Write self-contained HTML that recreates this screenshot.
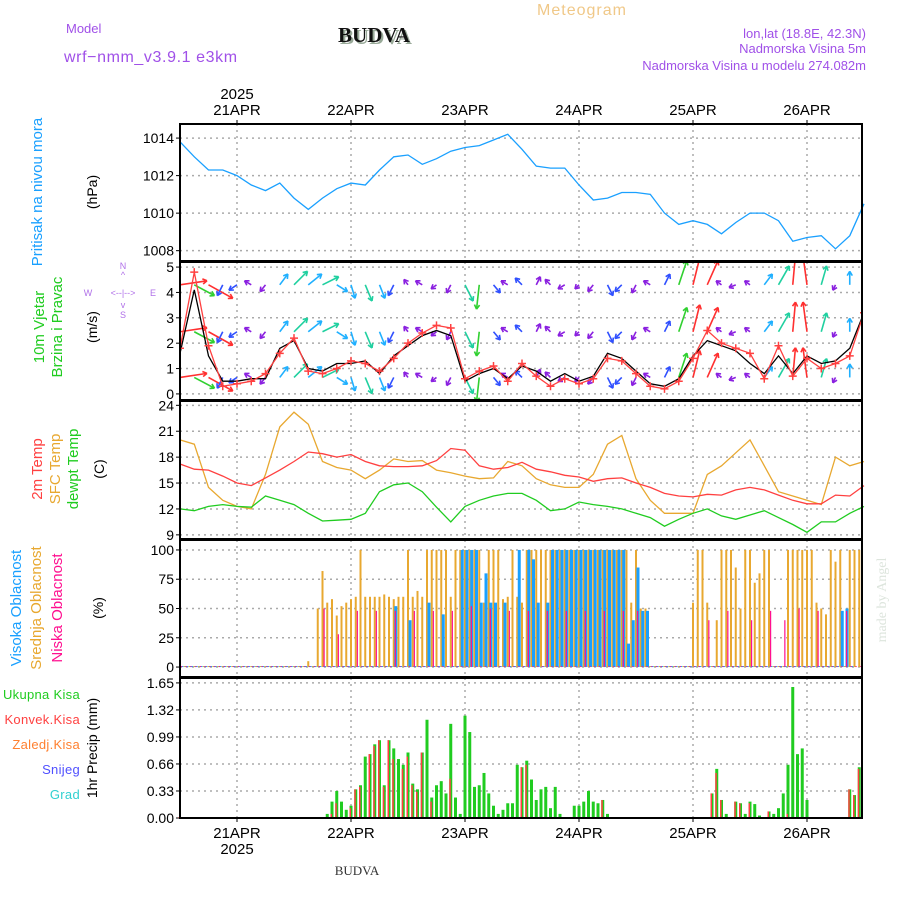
<!DOCTYPE html>
<html><head><meta charset="utf-8"><style>
body{margin:0;background:#fff;width:900px;height:900px;overflow:hidden}
svg{display:block;font-family:"Liberation Sans",sans-serif}
</style></head><body>
<svg id="c" width="900" height="900" viewBox="0 0 900 900">
<defs><clipPath id="clipW"><rect x="180" y="262" width="682" height="138"/></clipPath></defs>
<text x="582" y="15" font-size="16" fill="#f0c888" text-anchor="middle" letter-spacing="1">Meteogram</text>
<text x="376" y="44" font-size="21" font-weight="bold" font-family="Liberation Serif,serif" fill="#9a9" text-anchor="middle">BUDVA</text>
<text x="374" y="42" font-size="21" font-weight="bold" font-family="Liberation Serif,serif" fill="#111" text-anchor="middle">BUDVA</text>
<text x="66" y="33" font-size="13" fill="#a050e8">Model</text>
<text x="64" y="62" font-size="16" fill="#a050e8" letter-spacing="0.6">wrf−nmm_v3.9.1  e3km</text>
<g font-size="13" fill="#a050e8" text-anchor="end">
<text x="866" y="38">lon,lat (18.8E, 42.3N)</text>
<text x="866" y="53">Nadmorska Visina 5m</text>
<text x="866" y="70">Nadmorska Visina u modelu 274.082m</text></g>
<text x="357" y="875" font-size="13" font-family="Liberation Serif,serif" fill="#333" text-anchor="middle">BUDVA</text>
<text transform="translate(886,600) rotate(-90)" font-size="14" font-family="Liberation Serif,serif" fill="#dde5dd" text-anchor="middle">made by Angel</text>
<g id="g"></g>
</svg>
<script>
const hours3=[];for(let i=0;i<49;i++)hours3.push(i*3);
const pressure=[1013.8,1013.0,1012.3,1012.3,1012.0,1011.5,1011.2,1011.6,1010.8,1010.2,1010.8,1011.3,1011.6,1011.5,1012.3,1013.0,1013.1,1012.6,1012.9,1013.3,1013.5,1013.6,1013.9,1014.2,1013.4,1012.5,1012.4,1012.4,1011.5,1010.7,1010.8,1011.1,1011.1,1011.0,1010.0,1009.4,1009.6,1009.4,1008.9,1009.5,1010.0,1010.0,1009.6,1008.5,1008.7,1008.8,1008.1,1008.8,1010.5];
const temp2m=[17.2,16.6,16.5,15.8,15.0,14.7,15.6,16.5,17.5,18.6,18.4,18.0,18.3,17.5,17.0,16.9,16.9,17.0,17.6,19.0,18.8,17.0,16.6,16.8,17.4,16.6,16.3,15.9,15.7,15.2,15.5,15.6,15.0,14.5,13.8,13.5,13.4,13.7,13.6,14.2,14.5,14.2,13.6,13.0,12.6,12.6,13.6,13.5,14.7];
const tempSfc=[20.0,19.5,14.5,13.0,12.3,12.0,16,21.5,23.2,21.8,17.5,16.8,16.5,15.5,16.5,17.8,17.5,17.6,16.5,16.2,15.8,15.5,15.6,17.5,17.0,15.5,14.8,14.5,14.5,16.0,19.5,20.5,15.5,13.0,11.5,11.5,11.5,16.0,17.0,18.5,20.0,17.0,14.0,13.5,13.0,12.5,18.0,17.0,17.5];
const dewpt=[12.0,11.8,12.3,12.5,12.3,12.2,13.5,13.0,12.5,11.5,10.6,10.7,10.8,11.5,14.0,14.8,15.0,14.0,12.2,10.5,12.3,13.0,13.5,13.8,13.8,13.0,11.8,12.0,12.8,12.5,12.3,12.0,11.5,11.0,10.0,10.8,11.5,12.0,11.2,10.8,11.3,11.8,11.0,10.2,9.3,10.5,10.5,11.5,12.3];
const windSpeed=[1.6,4.1,1.5,0.5,0.5,0.6,0.6,1.8,2.1,1.0,0.9,1.2,1.2,1.3,0.8,1.5,1.9,2.3,2.5,2.3,0.5,0.8,1.0,0.6,1.1,0.9,0.5,0.8,0.5,0.7,1.6,1.4,0.9,0.4,0.3,0.6,1.5,2.1,1.9,1.7,1.2,0.8,1.5,0.8,1.5,1.2,1.3,1.8,3.2];
const windGust=[1.8,4.8,1.9,0.3,0.4,0.5,0.8,1.6,2.2,0.9,0.8,1.0,1.3,1.2,0.9,1.4,2.0,2.4,2.7,2.6,0.6,0.9,1.1,0.5,1.2,0.7,0.3,0.6,0.4,0.6,1.4,1.3,0.8,0.3,0.2,0.5,1.4,2.5,2.0,1.8,1.6,0.6,1.9,0.7,1.4,1.0,1.2,1.5,3.2];
const windU=[20,15,18,-4,-6,-5,-4,6,10,10,12,8,3,5,4,-4,-3,-5,-4,-3,6,-2,5,-5,-5,3,-4,-5,-3,-4,4,-5,-3,-5,4,6,5,8,-4,-5,-4,6,8,2,-3,4,-2,0,15];
const windV=[3,-8,-10,-8,-4,3,-5,8,10,8,6,-5,-10,-12,-10,-8,4,3,-3,-6,-12,-18,-6,3,5,6,4,-3,-3,-5,-8,-5,-6,3,8,18,20,18,3,-2,3,8,14,22,22,14,-4,10,5];
const cloudHigh=[0,0,0,0,0,0,0,0,0,0,0,0,0,0,0,0,0,0,0,0,0,0,0,0,0,0,0,0,0,0,0,0,0,0,0,0,0,0,0,0,0,0,0,0,0,52,0,0,40,0,0,0,55,0,0,45,0,0,0,100,100,100,100,55,80,55,55,0,55,0,0,100,0,100,92,55,0,55,100,100,100,100,100,100,100,100,100,100,100,100,100,100,100,100,20,40,85,48,48,0,0,0,0,0,0,0,0,0,0,0,0,0,0,0,0,0,0,0,0,0,0,0,0,0,0,0,0,0,0,0,0,0,0,0,0,0,0,0,0,48,50,0];
const cloudMid=[0,0,0,0,0,0,0,0,0,0,0,0,0,0,0,0,0,0,0,0,0,0,0,0,0,0,0,5,0,50,82,55,58,44,52,55,58,60,100,60,60,60,60,62,60,58,60,60,100,60,65,60,100,100,100,100,100,60,100,100,100,100,100,100,55,100,100,100,58,60,100,60,55,100,100,100,100,100,100,100,100,100,100,100,100,100,100,100,100,100,100,100,100,100,100,55,100,50,50,0,0,0,0,0,0,0,0,0,55,100,100,55,0,40,100,100,100,85,50,100,100,72,80,100,100,0,0,0,100,100,100,100,100,100,55,50,45,100,90,100,0,100,100,100];
const cloudLow=[0,0,0,0,0,0,0,0,0,0,0,0,0,0,0,0,0,0,0,0,0,0,0,0,0,0,0,0,0,0,50,0,0,28,0,0,0,48,0,0,0,48,0,0,0,48,0,0,0,48,0,0,0,48,0,0,0,48,0,0,0,52,0,0,0,50,0,0,0,48,0,0,0,48,0,0,0,48,0,0,0,48,0,0,0,48,0,0,0,48,0,0,0,48,0,0,48,0,0,0,0,0,0,0,0,0,0,0,0,0,0,40,0,0,0,48,0,0,0,0,40,0,0,0,48,0,0,40,0,0,50,0,0,0,48,0,0,0,0,0,48,0,0,0];
const precipTotal=[0,0,0,0,0,0,0,0,0,0,0,0,0,0,0,0,0,0,0,0,0,0,0,0,0,0,0,0,0,0,0,0.05,0.2,0.33,0.2,0.1,0.15,0.35,0.4,0.75,0.78,0.9,0.95,0.4,0.95,0.85,0.72,0.65,0.8,0.42,0.35,0.8,1.2,0.25,0.4,0.45,0.3,1.15,0.25,0.05,1.25,1.05,0.38,0.4,0.55,0.3,0.15,0.05,0.1,0.18,0.18,0.65,0.62,0.7,0.47,0.22,0.35,0.38,0.12,0.38,0.05,0,0,0.15,0.15,0.2,0.33,0.2,0.18,0.22,0.05,0,0,0,0,0,0,0,0,0,0,0,0,0,0,0,0,0,0,0,0,0,0.3,0.6,0.22,0.05,0,0.2,0.18,0.05,0.2,0.17,0.03,0,0.08,0.05,0.12,0.3,0.65,1.6,0.78,0.85,0.22,0,0,0,0,0,0,0,0,0.35,0.28,0.62];
const precipConv=[0,0,0,0,0,0,0,0,0,0,0,0,0,0,0,0,0,0,0,0,0,0,0,0,0,0,0,0,0,0,0,0,0.05,0.18,0,0,0.12,0.35,0.38,0,0.78,0.88,0.95,0.38,0.95,0.72,0,0.6,0.75,0.4,0.32,0.8,0,0.2,0,0,0,0.48,0,0,0,0,0,0,0,0,0,0,0,0,0,0,0.62,0.65,0,0,0,0,0,0,0,0,0,0,0,0,0,0,0,0.22,0,0,0,0,0,0,0,0,0,0,0,0,0,0,0,0,0,0,0,0,0,0,0.3,0.55,0.22,0,0,0.2,0.18,0,0.18,0,0,0,0.08,0,0,0,0.05,0,0,0,0,0,0,0,0,0,0,0,0,0.35,0.28,0.6];
const dayLabels=["21APR","22APR","23APR","24APR","25APR","26APR"];
const dayHours=[12,36,60,84,108,132];
const pTicks=[1008,1010,1012,1014], wTicks=[0,1,2,3,4,5], tTicks=[9,12,15,18,21,24], cTicks=[0,25,50,75,100], rTicks=[0,0.33,0.66,0.99,1.32,1.65];

const NS="http://www.w3.org/2000/svg", G=document.getElementById('g');
const L=180,R=862;
const X=h=>L+h*(114/24);
function el(t,a,p){const e=document.createElementNS(NS,t);for(const k in a)e.setAttribute(k,a[k]);(p||G).appendChild(e);return e;}
function txt(x,y,s,a,p){const e=el('text',Object.assign({x:x,y:y},a),p);e.textContent=s;return e;}
const panels=[
 {n:'pressure',t:124,b:261,y0:1007.45,y1:1014.75,ticks:pTicks,f:v=>String(v)},
 {n:'wind',t:262,b:400,y0:-0.24,y1:5.2,ticks:wTicks,f:v=>String(v)},
 {n:'temperature',t:401,b:539,y0:8.52,y1:24.5,ticks:tTicks,f:v=>String(v)},
 {n:'cloud',t:540,b:677,y0:-8.5,y1:108.5,ticks:cTicks,f:v=>String(v)},
 {n:'precip',t:678,b:818,y0:0,y1:1.71,ticks:rTicks,f:v=>v.toFixed(2)}];
panels.forEach(p=>{p.Y=v=>p.b-(v-p.y0)/(p.y1-p.y0)*(p.b-p.t);
 const g=el('g',{});   p.g=g;
 dayHours.forEach(h=>{const l=el('line',{x1:X(h),x2:X(h),y1:p.t,y2:p.b,stroke:'#aaa','stroke-dasharray':'2,4','stroke-width':1.5},g);
  });
 p.ticks.forEach(v=>{const y=p.Y(v);
  const l=el('line',{x1:L,x2:R,y1:y,y2:y,stroke:'#aaa','stroke-dasharray':'2,4','stroke-width':1.5},g);
  
  el('line',{x1:L-4,x2:L,y1:y,y2:y,stroke:'#000'},g);
  const t=txt(L-6,y+5,p.f(v),{'font-size':14,'text-anchor':'end',fill:'#000'},g);
  });
});
function line(p,data,color,name,par){const d=data.map((v,i)=>(i?'L':'M')+X(hours3[i]).toFixed(1)+','+p.Y(v).toFixed(1)).join('');
 const e=el('path',{d:d,fill:'none',stroke:color,'stroke-width':1.3},par||p.g);
 }
line(panels[0],pressure,'#1aa0ff','pressure-line');
// wind arrows
const pw=panels[1];
const wg=el('g',{'clip-path':'url(#clipW)'},pw.g);

function acol(m){return m>=19.5?'#ff3030':m>=17?'#30d030':m>=13?'#20d0a0':m>=9?'#20b0ff':m>=7?'#3050ff':'#8a20e0';}
const AS=1.35;
[4.3,2.45,0.65].forEach((base,r)=>{const gy=pw.Y(base);
 windU.forEach((u,i)=>{const v=windV[i];const m=Math.hypot(u,v);const x0=X(hours3[i]);const x1=x0+u*AS,y1=gy-v*AS;const c=acol(m);
  const a=el('g',{stroke:c,'stroke-width':1.6,fill:'none'},wg);
  
  el('line',{x1:x0,y1:gy,x2:x1,y2:y1},a);
  const ang=Math.atan2(y1-gy,x1-x0);[2.6,-2.6].forEach(o=>el('line',{x1:x1,y1:y1,x2:x1+5*Math.cos(ang+o),y2:y1+5*Math.sin(ang+o)},a));});});
line(pw,windSpeed,'#000','wind-speed-line',wg);
line(pw,windGust,'#ff4040','wind-gust-line',wg);
windGust.forEach((v,i)=>{const x=X(hours3[i]),y=pw.Y(v);const e=el('path',{d:`M${x-4},${y}h8M${x},${y-4}v8`,stroke:'#ff4040','stroke-width':1.5},wg);
 });
const pt=panels[2];
line(pt,tempSfc,'#e8a830','sfc-temp-line');line(pt,temp2m,'#ff4040','2m-temp-line');line(pt,dewpt,'#20cc20','dewpoint-line');
const pc=panels[3];
function bars(p,data,color,off,w,name){data.forEach((v,h)=>{const x=X(h)+off,y=p.Y(v),y0=p.Y(0);
 const e=el('rect',{x:x,y:Math.min(y,y0-1),width:w,height:Math.max(1,y0-y),fill:color},p.g);
 });}
bars(pc,cloudMid,'#e8a830',-1,2,'mid-cloud-bar');bars(pc,cloudHigh,'#1aa0ff',0.5,3,'high-cloud-bar');bars(pc,cloudLow,'#ff1090',1,1.2,'low-cloud-bar');
const pr=panels[4];
bars(pr,precipTotal,'#20cc20',-1.5,3,'total-precip-bar');bars(pr,precipConv,'#ff4040',-1.5,1.5,'convective-precip-bar');
el('line',{x1:L,x2:R,y1:pr.Y(0),y2:pr.Y(0),stroke:'#000','stroke-width':2,'stroke-dasharray':'4,1'});
panels.forEach(p=>{const e=el('rect',{x:L,y:p.t,width:R-L,height:p.b-p.t,fill:'none',stroke:'#000','stroke-width':2});
 });
dayLabels.forEach((s,i)=>{const x=X(dayHours[i]);
 let t=txt(x,115,s,{'font-size':15,'text-anchor':'middle'});
 t=txt(x,838,s,{'font-size':15,'text-anchor':'middle'});
 el('line',{x1:x,x2:x,y1:818,y2:822,stroke:'#000'});el('line',{x1:x,x2:x,y1:120,y2:124,stroke:'#000'});});
let t=txt(X(12),99,'2025',{'font-size':15,'text-anchor':'middle'});
t=txt(X(12),854,'2025',{'font-size':15,'text-anchor':'middle'});
function vt(x,y,s,c,fs,name){const e=txt(0,0,s,{transform:`translate(${x},${y}) rotate(-90)`,'font-size':fs||14,fill:c,'text-anchor':'middle'});
 }
vt(42,192,'Pritisak na nivou mora','#1aa0ff',15,'pressure-title');vt(97,192,'(hPa)','#000',14,'pressure-unit');
vt(44,327,'10m Vjetar','#20cc20',15,'wind-title');vt(62,327,'Brzina i Pravac','#20cc20',15,'wind-subtitle');vt(97,327,'(m/s)','#000',14,'wind-unit');
vt(42,469,'2m Temp','#ff4040',15,'temp2m-title');vt(60,469,'SFC Temp','#e8a830',15,'sfc-temp-title');vt(78,469,'dewpt Temp','#20cc20',15,'dewpt-title');vt(104,469,'(C)','#000',14,'temp-unit');
vt(21,608,'Visoka Oblacnost','#1aa0ff',15,'high-cloud-title');vt(41,608,'Srednja Oblacnost','#e8a830',15,'mid-cloud-title');vt(62,608,'Niska Oblacnost','#ff1090',15,'low-cloud-title');vt(103,608,'(%)','#000',14,'cloud-unit');
vt(97,748,'1hr Precip (mm)','#000',14,'precip-title');
[['Ukupna Kisa','#20cc20',699],['Konvek.Kisa','#ff4040',724],['Zaledj.Kisa','#ff8030',749],['Snijeg','#5050ff',774],['Grad','#30d0d0',799]].forEach(a=>{
 const e=txt(80,a[2],a[0],{'font-size':13,fill:a[1],'text-anchor':'end','letter-spacing':'0.3'});});
const cg=el('g',{fill:'#b070e8','font-size':9,'text-anchor':'middle'});
txt(123,269,'N',{},cg);txt(123,278,'^',{},cg);txt(88,296,'W',{},cg);txt(153,296,'E',{},cg);txt(123,296,'<--|-->',{},cg);txt(123,308,'v',{},cg);txt(123,318,'S',{},cg);
</script>
</body></html>
